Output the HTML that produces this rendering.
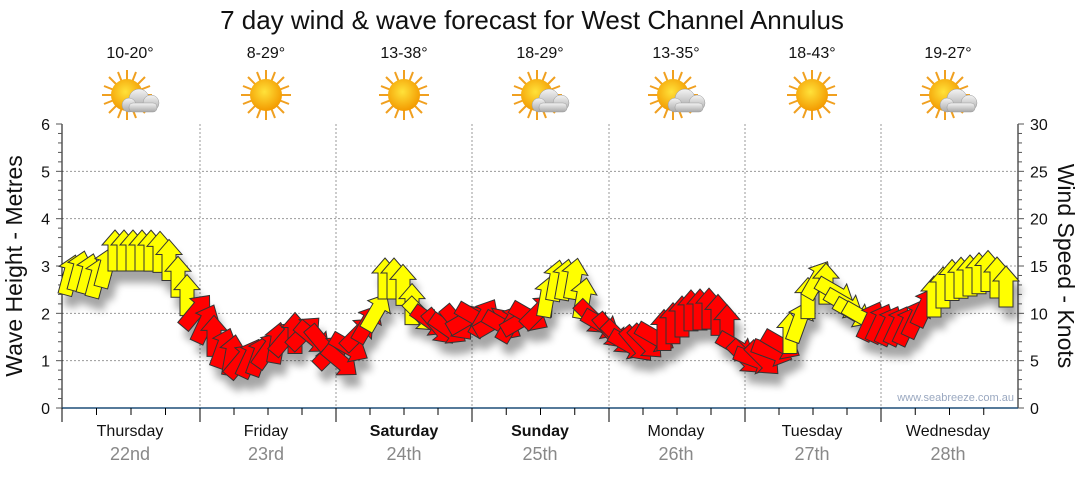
<!DOCTYPE html>
<html><head><meta charset="utf-8"><style>
body{margin:0;background:#fff;width:1080px;height:475px;overflow:hidden;font-family:"Liberation Sans",sans-serif}
</style></head><body>
<svg id="s" width="1080" height="475" xmlns="http://www.w3.org/2000/svg" font-family="Liberation Sans, sans-serif">
<defs>
<radialGradient id="sun" cx="0.45" cy="0.4" r="0.6"><stop offset="0" stop-color="#ffe23a"/><stop offset="1" stop-color="#f39a00"/></radialGradient>
<linearGradient id="cl" x1="0" y1="0" x2="0" y2="1"><stop offset="0" stop-color="#f4f4f4"/><stop offset="1" stop-color="#a8a8a8"/></linearGradient>
<filter id="sh" x="-50%" y="-50%" width="200%" height="200%"><feGaussianBlur stdDeviation="4"/></filter>
<g id="sunI">
<g stroke="#f0a020" stroke-width="2">
<line x1="0" y1="-25" x2="0" y2="25"/><line x1="-25" y1="0" x2="25" y2="0"/>
<line x1="-18" y1="-18" x2="18" y2="18"/><line x1="-18" y1="18" x2="18" y2="-18"/>
<line x1="-9" y1="-23" x2="9" y2="23"/><line x1="-23" y1="-9" x2="23" y2="9"/>
<line x1="9" y1="-23" x2="-9" y2="23"/><line x1="23" y1="-9" x2="-23" y2="9"/>
</g>
<circle r="16" fill="url(#sun)"/>
</g>
<g id="cloudI">
<use href="#sunI"/>
<g fill="url(#cl)" stroke="#999" stroke-width="0.5">
<circle cx="12" cy="4" r="10"/><circle cx="24" cy="8" r="8"/><circle cx="2" cy="10" r="7"/>
<rect x="2" y="8" width="28" height="9" rx="4"/>
</g>
</g>
</defs>
<text x="532" y="29" font-size="26" text-anchor="middle" fill="#111">7 day wind &amp; wave forecast for West Channel Annulus</text>
<g font-size="16" text-anchor="middle" fill="#111">
<text x="130" y="58">10-20°</text><text x="266" y="58">8-29°</text><text x="404" y="58">13-38°</text><text x="540" y="58">18-29°</text><text x="676" y="58">13-35°</text><text x="812" y="58">18-43°</text><text x="948" y="58">19-27°</text>
</g>
<use href="#cloudI" x="127" y="95"/><use href="#sunI" x="266" y="95"/><use href="#sunI" x="404" y="95"/><use href="#cloudI" x="537" y="95"/><use href="#cloudI" x="673" y="95"/><use href="#sunI" x="812" y="95"/><use href="#cloudI" x="945" y="95"/>
<g id="grid" stroke="#999" stroke-dasharray="2,2" stroke-width="1"></g>
<g id="axes"></g>
<g id="shadows" filter="url(#sh)" opacity="0.35"></g>
<g id="arrows" stroke="#333" stroke-width="1" stroke-linejoin="miter"></g>
<text x="1014" y="401" font-size="11" fill="#9aa8c0" text-anchor="end">www.seabreeze.com.au</text>
<text transform="translate(22,266) rotate(-90)" font-size="23" text-anchor="middle" fill="#111">Wave Height - Metres</text>
<text transform="translate(1058,266) rotate(90)" font-size="23" text-anchor="middle" fill="#111">Wind Speed - Knots</text>
<g font-size="16" text-anchor="middle" fill="#111">
<text x="130" y="436">Thursday</text><text x="266" y="436">Friday</text><text x="404" y="436" font-weight="bold">Saturday</text><text x="540" y="436" font-weight="bold">Sunday</text><text x="676" y="436">Monday</text><text x="812" y="436">Tuesday</text><text x="948" y="436">Wednesday</text>
</g>
<g font-size="18" text-anchor="middle" fill="#888">
<text x="130" y="460">22nd</text><text x="266" y="460">23rd</text><text x="404" y="460">24th</text><text x="540" y="460">25th</text><text x="676" y="460">26th</text><text x="812" y="460">27th</text><text x="948" y="460">28th</text>
</g>
</svg>
<script>
var NS="http://www.w3.org/2000/svg";
function el(p,t,a){var e=document.createElementNS(NS,t);for(var k in a)e.setAttribute(k,a[k]);p.appendChild(e);return e;}
var L=62,R=1018,T=124,B=408;
var grid=document.getElementById('grid'),ax=document.getElementById('axes');
for(var m=1;m<=5;m++){var y=B-m*(B-T)/6;el(grid,'line',{x1:L,x2:R,y1:y,y2:y});}
var days=[200,336,472,609,745,881];
days.forEach(function(x){el(grid,'line',{x1:x,x2:x,y1:T,y2:B});});
el(ax,'line',{x1:L,x2:L,y1:T,y2:B+8,stroke:'#000'});
el(ax,'line',{x1:R,x2:R,y1:T,y2:B,stroke:'#000'});
el(ax,'line',{x1:L,x2:R,y1:B,y2:B,stroke:'#1f4e79','stroke-width':1.5});
for(var i=0;i<=30;i++){var y=B-i*(B-T)/30;var big=i%5==0;
 el(ax,'line',{x1:L-(big?6:4),x2:L,y1:y,y2:y,stroke:'#555'});
 el(ax,'line',{x1:R,x2:R+(big?6:4),y1:y,y2:y,stroke:'#555'});}
for(var m=0;m<=6;m++){var t=el(ax,'text',{x:50,y:B-m*(B-T)/6+6,'font-size':16,'text-anchor':'end',fill:'#111'});t.textContent=m;}
for(var k=0;k<=6;k++){var t=el(ax,'text',{x:1030,y:B-k*5*(B-T)/30+6,'font-size':16,fill:'#111'});t.textContent=k*5;}
var bx=[62,200,336,472,609,745,881,1018];
for(var d=0;d<7;d++){for(var q=0;q<4;q++){var x=bx[d]+(bx[d+1]-bx[d])*q/4;el(ax,'line',{x1:x,x2:x,y1:B,y2:B+(q==0?14:7),stroke:'#000'});}}
var C=[[62,258],[80,250],[100,258],[115,230],[130,230],[150,230],[165,232],[180,260],[192,285],[210,310],[225,330],[240,340],[260,335],[280,320],[300,310],[320,320],[340,340],[360,310],[375,295],[385,258],[400,258],[415,290],[430,300],[445,310],[460,300],[480,295],[500,305],[520,300],[540,290],[555,260],[575,258],[590,295],[610,310],[630,325],[650,320],[670,305],[690,290],[710,288],[725,300],[740,335],[760,340],[780,325],[800,300],[815,258],[830,265],[850,290],[870,300],[890,305],[910,305],[930,280],[950,260],[970,255],[990,250],[1010,270],[1020,285]];
function cy(x){for(var i=0;i<C.length-1;i++){if(x<=C[i+1][0]){var f=(x-C[i][0])/(C[i+1][0]-C[i][0]);return C[i][1]+f*(C[i+1][1]-C[i][1]);}}return 285;}
function ang(x){
 if(x<195)return (x<110?15:0);
 if(x<300)return [0,20,35,10,40,25][Math.floor(x/7)%6];
 if(x<360)return [130,120,140,45][Math.floor(x/7)%4];
 if(x<385)return 30; if(x<415)return 0;
 if(x<465)return [135,125,140][Math.floor(x/7)%3];
 if(x<545)return [45,30,60,120][Math.floor(x/7)%4];
 if(x<590)return 10; if(x<660)return [135,120,0,140][Math.floor(x/7)%4];
 if(x<730)return 0; if(x<790)return [120,135,110][Math.floor(x/7)%3];
 if(x<830)return [20,0,30][Math.floor(x/7)%3]; if(x<870)return 120;
 if(x<930)return 25; return 0;}
function yellow(x){return (x<195)||(x>=375&&x<425)||(x>=545&&x<590)||(x>=790&&x<870)||(x>=930);}
var sh=document.getElementById('shadows'),ar=document.getElementById('arrows');
var P="0,-21 13,-6 7,-6 7,20 -7,20 -7,-6 -13,-6";
for(var x=70;x<=1012;x+=9){
 var y=cy(x)+21;var a=ang(x);
 el(sh,'polygon',{points:P,fill:'#000',transform:'translate('+(x+5)+','+(y+12)+') rotate('+a+')'});
 el(ar,'polygon',{points:P,fill:yellow(x)?'#ffff00':'#ff0000',transform:'translate('+x+','+y+') rotate('+a+')'});
}
</script>
</body></html>
